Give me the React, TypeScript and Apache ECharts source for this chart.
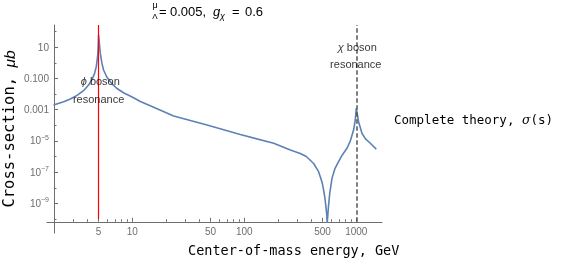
import React, { useEffect, useRef } from 'react';
import * as echarts from 'echarts';

// Centre-of-mass energy (GeV) and cross-section (μb)
const ENERGY_GEV = [
  1.98, 2.44, 2.8, 3.21, 3.67, 4.07, 4.37, 4.61, 4.77, 4.9, 4.97, 5.0,
  5.18, 5.36, 5.54, 5.94, 6.59, 7.3, 8.36, 10.27, 11.8, 14.3, 23.4, 46.5,
  92.1, 183, 258, 316, 358, 416, 458, 477, 497, 511, 525, 536, 545, 550,
  557, 566, 580, 607, 643, 695, 750, 826, 884, 946, 980, 1000, 1021, 1048,
  1124, 1203, 1334, 1509,
];
const SIGMA_UB = [
  2.0e-3, 3.2e-3, 4.9e-3, 8.3e-3, 1.66e-2, 3.8e-2, 8.9e-2, 0.214, 0.575, 2.5, 11, 62,
  4.2, 0.93, 0.35, 0.12, 4.5e-2, 2.3e-2, 1.23e-2, 5.9e-3, 3.4e-3, 1.86e-3, 4.0e-4, 1.05e-4,
  2.6e-5, 7.1e-6, 2.6e-6, 1.55e-6, 1.0e-6, 3.6e-7, 1.17e-7, 5.1e-8, 2.0e-8, 7.1e-9, 2.2e-9, 6.0e-10, 1.8e-10, 5.5e-11,
  1.8e-10, 7.8e-10, 4.6e-9, 4.0e-8, 1.6e-7, 4.7e-7, 1.26e-6, 3.4e-6, 9.8e-6, 5.0e-5, 2.2e-4, 1.23e-3, 5.2e-4, 1.7e-4,
  3.1e-5, 1.4e-5, 7.1e-6, 3.0e-6,
];

const X_RANGE_GEV = [1.732, 1697];
const Y_RANGE_UB = [1.26e-11, 269];
const X_AXIS_LEVEL_UB = 6.6e-11; // where the x axis crosses
const Y_AXIS_LEVEL_GEV = 2; // where the y axis crosses

const X_TICKS = [5, 10, 50, 100, 500, 1000];
const X_MINOR_TICKS = [2, 3, 4, 6, 7, 8, 9, 20, 30, 40, 60, 70, 80, 90, 200, 300, 400, 600, 700, 800, 900];
const Y_TICK_EXP = [1, -1, -3, -5, -7, -9];
const Y_TICK_LABELS = ['10', '0.100', '0.001', '10^−5', '10^−7', '10^−9'];
const Y_MINOR_EXP = [2, 0, -2, -4, -6, -8, -10];

const PHI_MASS_GEV = 5;
const CHI_MASS_GEV = 1000;
const PHI_LINE_UB = [1e-10, 269];
const CHI_LINE_UB = [6.6e-11, 269];

const ANNOTATIONS: [number, number, string][] = [
  [5.18, 0.069, '{i|ϕ} boson'],
  [5.0, 0.0049, 'resonance'],
  [1021, 11, '{i|χ} boson'],
  [990, 0.81, 'resonance'],
];

const SERIES_NAME = 'Complete theory, σ(s)';

const lg = Math.log10;
const AXIS_COLOR = '#6e6e6e';
const MONO = 'DejaVu Sans Mono';
const SANS = 'Liberation Sans';

export default function App() {
  const ref = useRef<HTMLDivElement>(null);

  useEffect(() => {
    if (!ref.current) return;
    const chart = echarts.init(ref.current, undefined, { renderer: 'svg' });

    const gridLeft = 47;
    const gridTop = 25;
    const gridWidth = 335;
    const gridHeight = 208;
    const xMin = lg(X_RANGE_GEV[0]);
    const xMax = lg(X_RANGE_GEV[1]);
    const yMin = lg(Y_RANGE_UB[0]);
    const yMax = lg(Y_RANGE_UB[1]);
    const xOffset = -((lg(X_AXIS_LEVEL_UB) - yMin) / (yMax - yMin)) * gridHeight;
    const yOffset = -((lg(Y_AXIS_LEVEL_GEV) - xMin) / (xMax - xMin)) * gridWidth;

    const curve = ENERGY_GEV.map((e, i) => [lg(e), lg(SIGMA_UB[i])]);

    const yLabelFmt = (v: number) => {
      const idx = Y_TICK_EXP.findIndex((t) => Math.abs(t - v) < 1e-6);
      const s = idx >= 0 ? Y_TICK_LABELS[idx] : '';
      if (s.includes('^')) {
        const [b, e] = s.split('^');
        return `{b|${b}}{s|${e}}`;
      }
      return `{b|${s}}`;
    };

    chart.setOption({
      animation: false,
      grid: { left: gridLeft, top: gridTop, width: gridWidth, height: gridHeight, containLabel: false },
      xAxis: [
        {
          type: 'value',
          position: 'bottom',
          min: xMin,
          max: xMax,
          offset: xOffset,
          axisLine: { show: true, onZero: false, lineStyle: { color: AXIS_COLOR, width: 1 } },
          axisTick: { show: true, inside: true, length: 4, customValues: X_TICKS.map(lg), lineStyle: { color: AXIS_COLOR } },
          axisLabel: {
            show: true,
            customValues: X_TICKS.map(lg),
            formatter: (v: number) => String(Math.round(Math.pow(10, v))),
            color: AXIS_COLOR,
            fontSize: 10,
            fontFamily: SANS,
            margin: 5,
          },
          splitLine: { show: false },
        },
        {
          type: 'value',
          position: 'bottom',
          min: xMin,
          max: xMax,
          offset: xOffset,
          axisLine: { show: false, onZero: false },
          axisTick: { show: true, inside: true, length: 2.5, customValues: X_MINOR_TICKS.map(lg), lineStyle: { color: AXIS_COLOR } },
          axisLabel: { show: false },
          splitLine: { show: false },
        },
      ],
      yAxis: [
        {
          type: 'value',
          position: 'left',
          min: yMin,
          max: yMax,
          offset: yOffset,
          axisLine: { show: true, onZero: false, lineStyle: { color: AXIS_COLOR, width: 1 } },
          axisTick: { show: true, inside: true, length: 4, customValues: Y_TICK_EXP, lineStyle: { color: AXIS_COLOR } },
          axisLabel: {
            show: true,
            customValues: Y_TICK_EXP,
            formatter: yLabelFmt,
            margin: 5,
            rich: {
              b: { fontSize: 10, fontFamily: SANS, color: AXIS_COLOR, lineHeight: 14 },
              s: { fontSize: 7, fontFamily: SANS, color: AXIS_COLOR, lineHeight: 8, verticalAlign: 'top' },
            },
          },
          splitLine: { show: false },
        },
        {
          type: 'value',
          position: 'left',
          min: yMin,
          max: yMax,
          offset: yOffset,
          axisLine: { show: false, onZero: false },
          axisTick: { show: true, inside: true, length: 2.5, customValues: Y_MINOR_EXP, lineStyle: { color: AXIS_COLOR } },
          axisLabel: { show: false },
          splitLine: { show: false },
        },
      ],
      series: [
        {
          name: SERIES_NAME,
          type: 'line',
          xAxisIndex: 0,
          yAxisIndex: 0,
          data: curve,
          showSymbol: false,
          symbol: 'none',
          smooth: false,
          lineStyle: { color: '#5E81B5', width: 1.6 },
          z: 2,
          markLine: {
            silent: true,
            symbol: ['none', 'none'],
            label: { show: false },
            animation: false,
            data: [
              [
                { coord: [lg(PHI_MASS_GEV), lg(PHI_LINE_UB[0])], lineStyle: { color: '#ff0000', width: 1.2, type: 'solid' } },
                { coord: [lg(PHI_MASS_GEV), lg(PHI_LINE_UB[1])] },
              ],
              [
                { coord: [lg(CHI_MASS_GEV), lg(CHI_LINE_UB[0])], lineStyle: { color: '#555555', width: 1.5, type: [4.5, 2.5] } },
                { coord: [lg(CHI_MASS_GEV), lg(CHI_LINE_UB[1])] },
              ],
            ],
          },
        },
        {
          type: 'scatter',
          xAxisIndex: 0,
          yAxisIndex: 0,
          symbol: 'circle',
          symbolSize: 1,
          itemStyle: { color: 'transparent' },
          silent: true,
          z: 5,
          data: ANNOTATIONS.map(([e, s, t]) => [lg(e), lg(s), t]),
          label: {
            show: true,
            position: 'inside',
            formatter: (p: any) => p.data[2],
            color: '#000',
            fontSize: 11,
            fontFamily: SANS,
            rich: { i: { fontSize: 11, fontFamily: SANS, fontStyle: 'italic', color: '#000' } },
          },
        },
      ],
      graphic: [
        { type: 'text', x: 155, y: 5, style: { text: 'μ', fill: '#000', fontSize: 9, fontFamily: SANS, align: 'center', verticalAlign: 'middle' } },
        { type: 'text', x: 155, y: 16, style: { text: 'Λ', fill: '#000', fontSize: 8, fontFamily: SANS, align: 'center', verticalAlign: 'middle' } },
        { type: 'text', x: 159, y: 11, style: { text: '=', fill: '#000', fontSize: 13, fontFamily: SANS, align: 'left', verticalAlign: 'middle' } },
        { type: 'text', x: 170, y: 11, style: { text: '0.005,', fill: '#000', fontSize: 13, fontFamily: SANS, align: 'left', verticalAlign: 'middle' } },
        { type: 'text', x: 213, y: 11, style: { text: 'g', fill: '#000', fontSize: 13, fontStyle: 'italic', fontFamily: SANS, align: 'left', verticalAlign: 'middle' } },
        { type: 'text', x: 220, y: 16, style: { text: 'χ', fill: '#000', fontSize: 9, fontStyle: 'italic', fontFamily: SANS, align: 'left', verticalAlign: 'middle' } },
        { type: 'text', x: 232, y: 11, style: { text: '=', fill: '#000', fontSize: 13, fontFamily: SANS, align: 'left', verticalAlign: 'middle' } },
        { type: 'text', x: 245, y: 11, style: { text: '0.6', fill: '#000', fontSize: 13, fontFamily: SANS, align: 'left', verticalAlign: 'middle' } },
        {
          type: 'text',
          x: 188,
          y: 250,
          style: { text: 'Center-of-mass energy, GeV', fill: '#000', fontSize: 13.5, fontFamily: MONO, align: 'left', verticalAlign: 'middle' },
        },
        {
          type: 'text',
          x: 9,
          y: 129,
          rotation: Math.PI / 2,
          style: {
            text: '{m|Cross-section, }{i|μb}',
            fill: '#000',
            align: 'center',
            verticalAlign: 'middle',
            rich: {
              m: { fontSize: 15.5, fontFamily: MONO, fill: '#000' },
              i: { fontSize: 15.5, fontFamily: SANS, fontStyle: 'italic', fill: '#000' },
            },
          },
        },
        {
          type: 'text',
          x: 394,
          y: 119,
          style: {
            text: '{m|Complete theory, }{i|σ}{m|(s)}',
            fill: '#000',
            align: 'left',
            verticalAlign: 'middle',
            rich: {
              m: { fontSize: 12.5, fontFamily: MONO, fill: '#000' },
              i: { fontSize: 12.5, fontFamily: 'DejaVu Serif', fontStyle: 'italic', fill: '#000' },
            },
          },
        },
      ],
    });

    return () => chart.dispose();
  }, []);

  return <div ref={ref} style={{ position: 'fixed', left: 0, top: 0, width: 562, height: 260 }} />;
}
